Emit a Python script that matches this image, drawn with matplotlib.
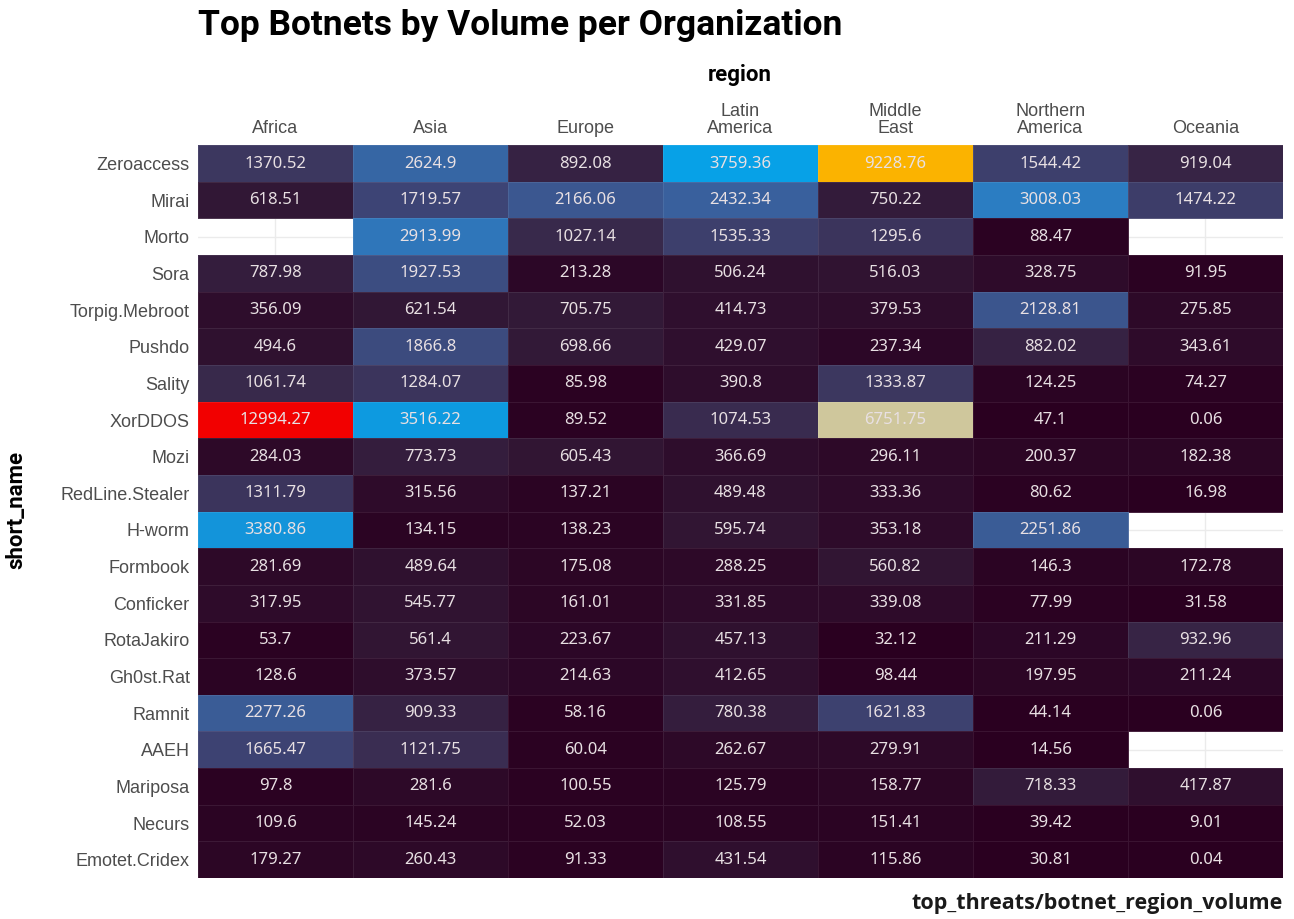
import matplotlib
matplotlib.use("Agg")
import matplotlib.pyplot as plt
import numpy as np
from matplotlib.colors import LinearSegmentedColormap

regions = ["Africa", "Asia", "Europe", "Latin\nAmerica", "Middle\nEast",
           "Northern\nAmerica", "Oceania"]
botnets = ["Zeroaccess", "Mirai", "Morto", "Sora", "Torpig.Mebroot", "Pushdo",
           "Sality", "XorDDOS", "Mozi", "RedLine.Stealer", "H-worm", "Formbook",
           "Conficker", "RotaJakiro", "Gh0st.Rat", "Ramnit", "AAEH", "Mariposa",
           "Necurs", "Emotet.Cridex"]

nan = np.nan
africa = [1370.52, 618.51, nan, 787.98, 356.09, 494.6, 1061.74, 12994.27, 284.03,
          1311.79, 3380.86, 281.69, 317.95, 53.7, 128.6, 2277.26, 1665.47, 97.8,
          109.6, 179.27]
asia = [2624.9, 1719.57, 2913.99, 1927.53, 621.54, 1866.8, 1284.07, 3516.22, 773.73,
        315.56, 134.15, 489.64, 545.77, 561.4, 373.57, 909.33, 1121.75, 281.6,
        145.24, 260.43]
europe = [892.08, 2166.06, 1027.14, 213.28, 705.75, 698.66, 85.98, 89.52, 605.43,
          137.21, 138.23, 175.08, 161.01, 223.67, 214.63, 58.16, 60.04, 100.55,
          52.03, 91.33]
latin_america = [3759.36, 2432.34, 1535.33, 506.24, 414.73, 429.07, 390.8, 1074.53,
                 366.69, 489.48, 595.74, 288.25, 331.85, 457.13, 412.65, 780.38,
                 262.67, 125.79, 108.55, 431.54]
middle_east = [9228.76, 750.22, 1295.6, 516.03, 379.53, 237.34, 1333.87, 6751.75,
               296.11, 333.36, 353.18, 560.82, 339.08, 32.12, 98.44, 1621.83,
               279.91, 158.77, 151.41, 115.86]
northern_america = [1544.42, 3008.03, 88.47, 328.75, 2128.81, 882.02, 124.25, 47.1,
                    200.37, 80.62, 2251.86, 146.3, 77.99, 211.29, 197.95, 44.14,
                    14.56, 718.33, 39.42, 30.81]
oceania = [919.04, 1474.22, nan, 91.95, 275.85, 343.61, 74.27, 0.06, 182.38, 16.98,
           nan, 172.78, 31.58, 932.96, 211.24, 0.06, nan, 417.87, 9.01, 0.04]

values = np.array([africa, asia, europe, latin_america, middle_east,
                   northern_america, oceania]).T

# custom palette, stops by value
vmax = 13000.0
stops = [(0, "#2a0020"), (600, "#311634"), (1000, "#38284a"), (1400, "#3d3a64"),
         (1700, "#3d4576"), (2300, "#3a5e99"), (2700, "#3568a8"), (3050, "#2a80c6"),
         (3400, "#1096dc"), (3800, "#06a2e8"), (6750, "#d0c79b"), (9230, "#fbb300"),
         (13000, "#f20000")]
cmap = LinearSegmentedColormap.from_list(
    "botnet", [(v / vmax, c) for v, c in stops])

fig = plt.figure(figsize=(12.94, 9.19), dpi=100)
ax = fig.add_axes([0.153, 0.0446, 0.8385, 0.7974])

nrow, ncol = values.shape
ax.set_xlim(-0.5, ncol - 0.5)
ax.set_ylim(nrow - 0.5, -0.5)
ax.set_xticks(range(ncol))
ax.set_yticks(range(nrow))
ax.grid(True, color="#ebebeb", linewidth=1.0)
ax.set_axisbelow(True)

masked = np.ma.masked_invalid(values)
ax.pcolormesh(np.arange(ncol + 1) - 0.5, np.arange(nrow + 1) - 0.5, masked,
              cmap=cmap, vmin=0, vmax=vmax, edgecolor=(1, 1, 1, 0.08),
              linewidth=0.6, zorder=2)

def fmt(v):
    return "{:.2f}".format(v).rstrip("0").rstrip(".")

num_font = ["Noto Sans", "DejaVu Sans"]
for i in range(nrow):
    for j in range(ncol):
        v = values[i, j]
        if np.isnan(v):
            continue
        ax.text(j, i, fmt(v), ha="center", va="center",
                color="#e8e0e3", fontsize=12, family=num_font, zorder=3)

ax.xaxis.tick_top()
ax.set_xticklabels(regions, fontsize=13, color="#4d4d4d",
                   family=["Liberation Sans", "DejaVu Sans"], linespacing=1.0)
ax.set_yticklabels(botnets, fontsize=13, color="#4d4d4d",
                   family=["Liberation Sans", "DejaVu Sans"])
ax.tick_params(length=0, pad=6)
for s in ax.spines.values():
    s.set_visible(False)

bold_font = ["Roboto", "DejaVu Sans"]
fig.text(0.153, 0.972, "Top Botnets by Volume per Organization",
         fontsize=25.5, fontweight="bold", va="center", ha="left",
         family=bold_font)
fig.text(0.572, 0.918, "region", fontsize=16, fontweight="bold",
         ha="center", va="center", family=bold_font)
fig.text(0.013, 0.445, "short_name", fontsize=16, fontweight="bold",
         rotation=90, ha="center", va="center", family=bold_font)
fig.text(0.9915, 0.017, "top_threats/botnet_region_volume", fontsize=15.5,
         fontweight="bold", ha="right", va="center", color="#1a1a1a",
         family=["Open Sans", "Roboto", "DejaVu Sans"])

fig.savefig("out.png", dpi=100)
